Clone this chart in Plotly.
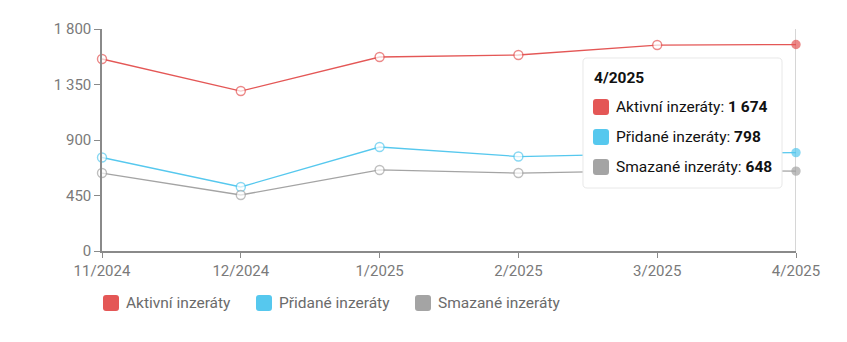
import plotly.graph_objects as go

months = ["11/2024", "12/2024", "1/2025", "2/2025", "3/2025", "4/2025"]
aktivni = [1557, 1297, 1573, 1589, 1670, 1674]
pridane = [758, 519, 843, 766, 790, 798]
smazane = [632, 454, 657, 632, 652, 648]
names = ["Aktivní inzeráty", "Přidané inzeráty", "Smazané inzeráty"]
colors = ["#e45756", "#56c8ee", "#a4a4a4"]
ytick_vals = [0, 450, 900, 1350, 1800]
ytick_text = ["0", "450", "900", "1 350", "1 800"]

W, H = 847, 342
ML, MR, MT, MB = 102, 51, 29, 91
PW, PH = W - ML - MR, H - MT - MB

def px(x):
    return (x - ML) / PW

def py(y):
    return (H - MB - y) / PH

def rrect(x0, y0, x1, y1, r):
    # pixel coords -> paper path with rounded corners
    X = lambda v: f"{px(v):.5f}"
    Y = lambda v: f"{py(v):.5f}"
    return (f"M {X(x0+r)},{Y(y0)} L {X(x1-r)},{Y(y0)} Q {X(x1)},{Y(y0)} {X(x1)},{Y(y0+r)} "
            f"L {X(x1)},{Y(y1-r)} Q {X(x1)},{Y(y1)} {X(x1-r)},{Y(y1)} "
            f"L {X(x0+r)},{Y(y1)} Q {X(x0)},{Y(y1)} {X(x0)},{Y(y1-r)} "
            f"L {X(x0)},{Y(y0+r)} Q {X(x0)},{Y(y0)} {X(x0+r)},{Y(y0)} Z")

FONT = "Roboto"
fig = go.Figure()
series = [aktivni, pridane, smazane]
last = len(months) - 1
for name, vals, c in zip(names, series, colors):
    fig.add_trace(go.Scatter(
        x=months, y=vals, mode="lines+markers", showlegend=False, name=name,
        line=dict(color=c, width=1.3),
        marker=dict(size=[9] * last + [8], color=["white"] * last + [c],
                    line=dict(color=c, width=1.4)),
        hoverinfo="skip", cliponaxis=False))

# hover line
fig.add_shape(type="line", xref="x", yref="paper", x0=months[-1], x1=months[-1],
              y0=0, y1=1, line=dict(color="#c8c8c8", width=1.5), layer="below")

# tooltip box
fig.add_shape(type="path", xref="paper", yref="paper", path=rrect(583, 58, 782, 188, 4),
              line=dict(color="#e8e8e8", width=1), fillcolor="white")
fig.add_annotation(xref="paper", yref="paper", x=px(592), y=py(78), xanchor="left",
                   yanchor="middle", showarrow=False, text="<b>" + months[-1] + "</b>",
                   font=dict(family=FONT, size=15.5, color="#111"))
vals_last = [aktivni[-1], pridane[-1], smazane[-1]]
for i, (name, c, v) in enumerate(zip(names, colors, vals_last)):
    yy = 107 + 30 * i
    fig.add_shape(type="path", xref="paper", yref="paper",
                  path=rrect(593, yy - 8, 609, yy + 8, 3), fillcolor=c, line=dict(width=0))
    vs = f"{v:,}".replace(",", " ")
    fig.add_annotation(xref="paper", yref="paper", x=px(614), y=py(yy), xanchor="left",
                       yanchor="middle", showarrow=False,
                       text=f"{name}: <b>{vs}</b>",
                       font=dict(family=FONT, size=15.5, color="#111"))

# legend (drawn)
leg_x = [103, 256, 415]
for lx, name, c in zip(leg_x, names, colors):
    fig.add_shape(type="path", xref="paper", yref="paper",
                  path=rrect(lx, 295, lx + 16, 311, 3), fillcolor=c, line=dict(width=0))
    fig.add_annotation(xref="paper", yref="paper", x=px(lx + 21), y=py(303), xanchor="left",
                       yanchor="middle", showarrow=False, text=name,
                       font=dict(family=FONT, size=15.5, color="#6b6b6b"))

fig.update_layout(
    width=W, height=H, margin=dict(l=ML, r=MR, t=MT, b=MB),
    paper_bgcolor="white", plot_bgcolor="white",
    font=dict(family=FONT, size=15, color="#7a7a7a"),
    showlegend=False,
    xaxis=dict(type="category", range=[0, last], showgrid=False, zeroline=False,
               showline=True, linecolor="#8a8a8a", linewidth=1.5,
               ticks="outside", ticklen=5, tickcolor="#8a8a8a",
               tickfont=dict(size=15, color="#7a7a7a")),
    yaxis=dict(range=[0, 1800], tickvals=ytick_vals, ticktext=ytick_text,
               showgrid=False, zeroline=False, showline=True, linecolor="#8a8a8a",
               linewidth=1.5, ticks="outside", ticklen=6, tickcolor="#8a8a8a",
               tickfont=dict(size=15, color="#7a7a7a")),
)
fig.write_html("out.html")
